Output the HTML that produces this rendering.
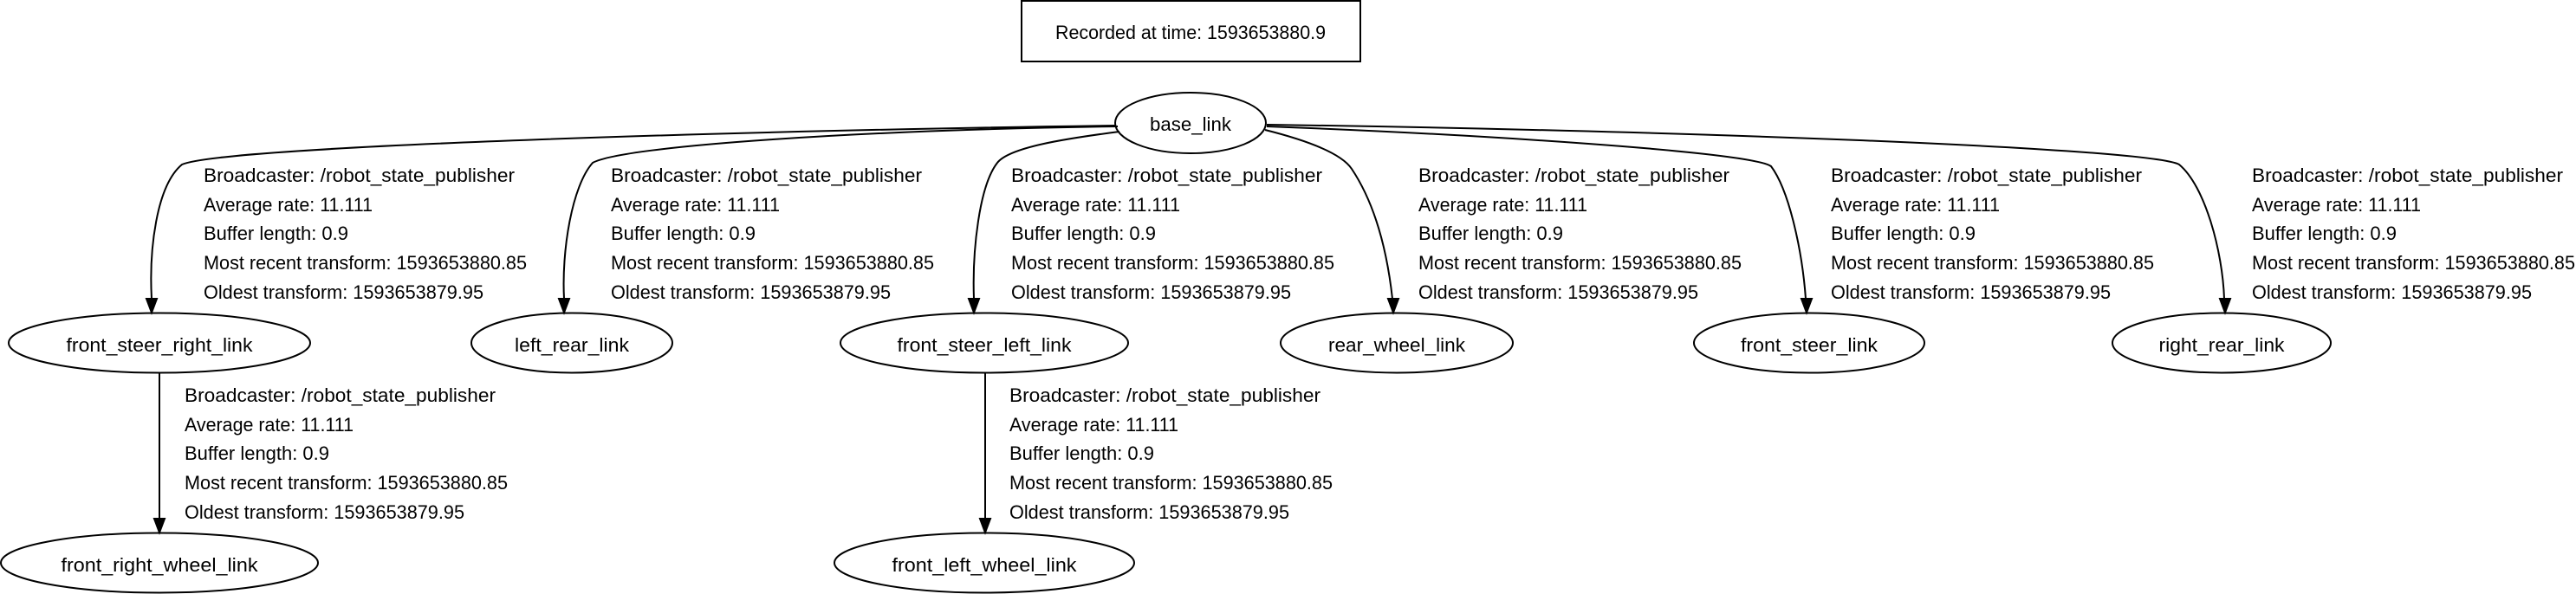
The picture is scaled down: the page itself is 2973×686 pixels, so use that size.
<!DOCTYPE html>
<html><head><meta charset="utf-8"><style>
html,body{margin:0;padding:0;background:#fff;}
svg{display:block;}
text{font-family:"Liberation Sans",sans-serif;font-size:22px;fill:#000;}
</style></head><body>
<svg width="2973" height="686" viewBox="0 0 2973 686" xmlns="http://www.w3.org/2000/svg">
<defs>
<marker id="a" markerWidth="14" markerHeight="18" refX="7" refY="16" orient="auto" markerUnits="userSpaceOnUse" viewBox="0 0 14 18">
</marker>
</defs>
<g fill="none" stroke="#000" stroke-width="2">
<rect x="1179" y="1" width="391" height="70"/>
<ellipse cx="1374" cy="142" rx="87" ry="35"/>
<ellipse cx="184" cy="396" rx="174" ry="34.5"/>
<ellipse cx="660" cy="396" rx="116" ry="34.5"/>
<ellipse cx="1136" cy="396" rx="166" ry="34.5"/>
<ellipse cx="1612" cy="396" rx="134" ry="34.5"/>
<ellipse cx="2088" cy="396" rx="133" ry="34.5"/>
<ellipse cx="2564" cy="396" rx="126" ry="34.5"/>
<ellipse cx="184" cy="650" rx="183" ry="34.5"/>
<ellipse cx="1136" cy="650" rx="173" ry="34.5"/>
<path d="M1288,145 C900,150 260,168 210,190 C180,215 172,290 175,345"/>
<path d="M1290,146 C1000,150 720,168 684,188 C660,215 648,290 651,345"/>
<path d="M1292,152 C1230,160 1165,170 1151,188 C1130,215 1122,290 1124,345"/>
<path d="M1460,150 C1520,165 1550,180 1560,195 C1590,240 1602,300 1607,345"/>
<path d="M1462,146 C1700,155 2020,175 2044,192 C2065,220 2080,290 2084,345"/>
<path d="M1462,144 C1900,150 2480,170 2515,190 C2545,215 2565,290 2567,345"/>
<path d="M184,431 L184,600"/>
<path d="M1137,431 L1137,600"/>
</g>
<g fill="#000" stroke="#000" stroke-width="2">
<polygon points="169,345 181,345 175,361"/>
<polygon points="645,345 657,345 651,361"/>
<polygon points="1118,345 1130,345 1124,361"/>
<polygon points="1602,345 1614,345 1608,361"/>
<polygon points="2079,345 2091,345 2085,361"/>
<polygon points="2562,345 2574,345 2568,361"/>
<polygon points="178,599 190,599 184,615"/>
<polygon points="1131,599 1143,599 1137,615"/>
</g>
<g text-anchor="middle" lengthAdjust="spacingAndGlyphs">
<text x="1374" y="45" textLength="312" lengthAdjust="spacingAndGlyphs">Recorded at time: 1593653880.9</text>
<text x="1374" y="151" textLength="94" lengthAdjust="spacingAndGlyphs">base_link</text>
<text x="184" y="406" textLength="215" lengthAdjust="spacingAndGlyphs">front_steer_right_link</text>
<text x="660" y="406" textLength="132" lengthAdjust="spacingAndGlyphs">left_rear_link</text>
<text x="1136" y="406" textLength="201" lengthAdjust="spacingAndGlyphs">front_steer_left_link</text>
<text x="1612" y="406" textLength="158" lengthAdjust="spacingAndGlyphs">rear_wheel_link</text>
<text x="2088" y="406" textLength="158" lengthAdjust="spacingAndGlyphs">front_steer_link</text>
<text x="2564" y="406" textLength="145" lengthAdjust="spacingAndGlyphs">right_rear_link</text>
<text x="184" y="660" textLength="227" lengthAdjust="spacingAndGlyphs">front_right_wheel_link</text>
<text x="1136" y="660" textLength="213" lengthAdjust="spacingAndGlyphs">front_left_wheel_link</text>
</g>
<g id="L">
</g>
<!-- labels -->
<g>
<g transform="translate(235,0)">
<text y="210" textLength="359" lengthAdjust="spacingAndGlyphs">Broadcaster: /robot_state_publisher</text>
<text y="244" textLength="195" lengthAdjust="spacingAndGlyphs">Average rate: 11.111</text>
<text y="277" textLength="167" lengthAdjust="spacingAndGlyphs">Buffer length: 0.9</text>
<text y="311" textLength="373" lengthAdjust="spacingAndGlyphs">Most recent transform: 1593653880.85</text>
<text y="345" textLength="323" lengthAdjust="spacingAndGlyphs">Oldest transform: 1593653879.95</text>
</g>
<g transform="translate(705,0)">
<text y="210" textLength="359" lengthAdjust="spacingAndGlyphs">Broadcaster: /robot_state_publisher</text>
<text y="244" textLength="195" lengthAdjust="spacingAndGlyphs">Average rate: 11.111</text>
<text y="277" textLength="167" lengthAdjust="spacingAndGlyphs">Buffer length: 0.9</text>
<text y="311" textLength="373" lengthAdjust="spacingAndGlyphs">Most recent transform: 1593653880.85</text>
<text y="345" textLength="323" lengthAdjust="spacingAndGlyphs">Oldest transform: 1593653879.95</text>
</g>
<g transform="translate(1167,0)">
<text y="210" textLength="359" lengthAdjust="spacingAndGlyphs">Broadcaster: /robot_state_publisher</text>
<text y="244" textLength="195" lengthAdjust="spacingAndGlyphs">Average rate: 11.111</text>
<text y="277" textLength="167" lengthAdjust="spacingAndGlyphs">Buffer length: 0.9</text>
<text y="311" textLength="373" lengthAdjust="spacingAndGlyphs">Most recent transform: 1593653880.85</text>
<text y="345" textLength="323" lengthAdjust="spacingAndGlyphs">Oldest transform: 1593653879.95</text>
</g>
<g transform="translate(1637,0)">
<text y="210" textLength="359" lengthAdjust="spacingAndGlyphs">Broadcaster: /robot_state_publisher</text>
<text y="244" textLength="195" lengthAdjust="spacingAndGlyphs">Average rate: 11.111</text>
<text y="277" textLength="167" lengthAdjust="spacingAndGlyphs">Buffer length: 0.9</text>
<text y="311" textLength="373" lengthAdjust="spacingAndGlyphs">Most recent transform: 1593653880.85</text>
<text y="345" textLength="323" lengthAdjust="spacingAndGlyphs">Oldest transform: 1593653879.95</text>
</g>
<g transform="translate(2113,0)">
<text y="210" textLength="359" lengthAdjust="spacingAndGlyphs">Broadcaster: /robot_state_publisher</text>
<text y="244" textLength="195" lengthAdjust="spacingAndGlyphs">Average rate: 11.111</text>
<text y="277" textLength="167" lengthAdjust="spacingAndGlyphs">Buffer length: 0.9</text>
<text y="311" textLength="373" lengthAdjust="spacingAndGlyphs">Most recent transform: 1593653880.85</text>
<text y="345" textLength="323" lengthAdjust="spacingAndGlyphs">Oldest transform: 1593653879.95</text>
</g>
<g transform="translate(2599,0)">
<text y="210" textLength="359" lengthAdjust="spacingAndGlyphs">Broadcaster: /robot_state_publisher</text>
<text y="244" textLength="195" lengthAdjust="spacingAndGlyphs">Average rate: 11.111</text>
<text y="277" textLength="167" lengthAdjust="spacingAndGlyphs">Buffer length: 0.9</text>
<text y="311" textLength="373" lengthAdjust="spacingAndGlyphs">Most recent transform: 1593653880.85</text>
<text y="345" textLength="323" lengthAdjust="spacingAndGlyphs">Oldest transform: 1593653879.95</text>
</g>
<g transform="translate(213,0)">
<text y="464" textLength="359" lengthAdjust="spacingAndGlyphs">Broadcaster: /robot_state_publisher</text>
<text y="498" textLength="195" lengthAdjust="spacingAndGlyphs">Average rate: 11.111</text>
<text y="531" textLength="167" lengthAdjust="spacingAndGlyphs">Buffer length: 0.9</text>
<text y="565" textLength="373" lengthAdjust="spacingAndGlyphs">Most recent transform: 1593653880.85</text>
<text y="599" textLength="323" lengthAdjust="spacingAndGlyphs">Oldest transform: 1593653879.95</text>
</g>
<g transform="translate(1165,0)">
<text y="464" textLength="359" lengthAdjust="spacingAndGlyphs">Broadcaster: /robot_state_publisher</text>
<text y="498" textLength="195" lengthAdjust="spacingAndGlyphs">Average rate: 11.111</text>
<text y="531" textLength="167" lengthAdjust="spacingAndGlyphs">Buffer length: 0.9</text>
<text y="565" textLength="373" lengthAdjust="spacingAndGlyphs">Most recent transform: 1593653880.85</text>
<text y="599" textLength="323" lengthAdjust="spacingAndGlyphs">Oldest transform: 1593653879.95</text>
</g>
</g>
</svg>
</body></html>
